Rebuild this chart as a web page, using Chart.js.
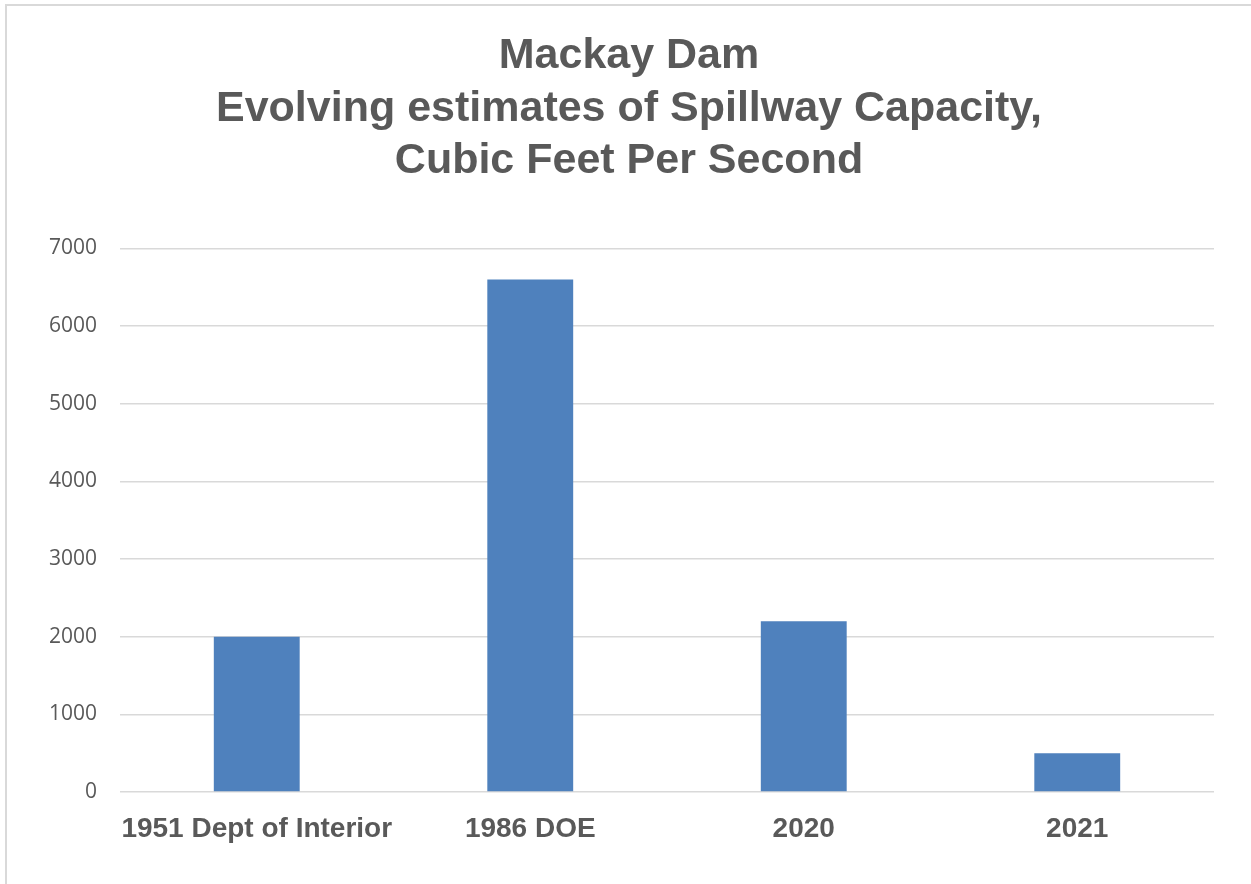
<!DOCTYPE html>
<html>
<head>
<meta charset="utf-8">
<script src="https://cdn.jsdelivr.net/npm/chart.js@4/dist/chart.umd.min.js"></script>
<style>
  html, body { margin: 0; padding: 0; background: #ffffff; overflow: hidden; }
  #frame { position: absolute; left: 5px; top: 4px; width: 1300px; height: 950px;
           border: 2px solid #d9d9d9; box-sizing: border-box; }
  #wrap { position: absolute; left: 0; top: 0; width: 1251px; height: 884px; }
</style>
</head>
<body>
<div id="frame"></div>
<div id="wrap"><canvas id="chart" width="1251" height="884"></canvas></div>
<script>
// Spillway capacity estimates (cubic feet per second)
const categories = ['1951 Dept of Interior', '1986 DOE', '2020', '2021'];
const capacityCfs = [2000, 6600, 2200, 500];
const titleLines = ['Mackay Dam', 'Evolving estimates of Spillway Capacity,', 'Cubic Feet Per Second'];
const yMin = 0;
const yMax = 7000;
const yStep = 1000;

const textGray = '#595959';
const gridGray = '#d9d9d9';

new Chart(document.getElementById('chart'), {
  type: 'bar',
  data: {
    labels: categories,
    datasets: [{
      data: capacityCfs,
      backgroundColor: '#4f81bd',
      borderWidth: 0,
      categoryPercentage: 1.0,
      barPercentage: 0.314
    }]
  },
  options: {
    responsive: false,
    animation: false,
    layout: { padding: { left: 44, right: 37, top: 0, bottom: 0 } },
    plugins: {
      legend: { display: false },
      tooltip: { enabled: false },
      title: {
        display: true,
        text: titleLines,
        color: textGray,
        font: { family: '"Liberation Sans", Arial, sans-serif', size: 43, weight: 'bold', lineHeight: 1.22 },
        padding: { top: 30, bottom: 61 }
      }
    },
    scales: {
      x: {
        grid: { display: false, drawTicks: false },
        border: { display: false },
        ticks: {
          color: textGray,
          padding: 20,
          maxRotation: 0,
          autoSkip: false,
          font: { family: '"Liberation Sans", Arial, sans-serif', size: 28, weight: 'bold', lineHeight: 1.2 }
        },
        afterFit(scale) { scale.height = 92; }
      },
      y: {
        min: yMin,
        max: yMax,
        grid: { color: gridGray, lineWidth: 1.5, drawTicks: false },
        border: { display: false },
        ticks: {
          stepSize: yStep,
          color: textGray,
          padding: 23,
          font: { family: '"Open Sans", sans-serif', size: 21 },
          callback: (value) => String(value)
        },
        afterFit(scale) { scale.width = 76; }
      }
    }
  }
});
</script>
</body>
</html>
